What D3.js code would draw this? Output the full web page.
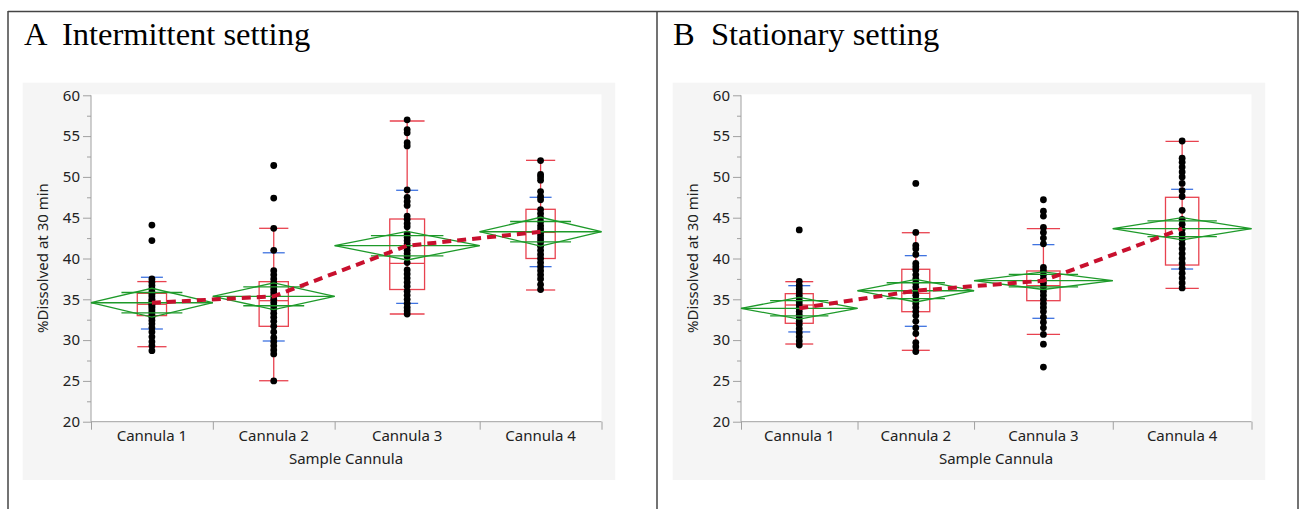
<!DOCTYPE html>
<html>
<head>
<meta charset="utf-8">
<script src="https://cdn.jsdelivr.net/npm/d3@7"></script>
<style>
  body { margin: 0; background: #fff; }
  svg text { white-space: pre; }
</style>
</head>
<body>
<div id="chart"></div>
<script>
// groups and sample sizes (JMP draws x widths proportional to n)
var cannulas = ["Cannula 1", "Cannula 2", "Cannula 3", "Cannula 4"];
var countsA = [42, 42, 50, 42];
var countsB = [42, 42, 50, 50];

// panel A - intermittent setting
var pointsA = [
  [28.7, 29.3, 29.8, 30.4, 31.0, 31.5, 32.0, 32.4, 32.8, 33.1, 33.4, 33.7, 34.0, 34.2, 34.4, 34.6, 34.8, 35.0, 35.3, 35.6, 35.9, 36.3, 36.7, 37.1, 37.5, 42.2, 44.1],
  [25.0, 28.3, 28.8, 29.3, 29.8, 30.3, 31.0, 31.7, 32.3, 32.8, 33.3, 33.8, 34.2, 34.6, 35.0, 35.4, 35.8, 36.2, 36.6, 37.0, 37.5, 38.0, 38.5, 41.0, 43.7, 47.4, 51.4],
  [33.2, 33.6, 34.0, 34.5, 35.0, 35.5, 36.0, 36.6, 37.1, 37.6, 38.1, 38.6, 39.5, 40.2, 40.6, 41.0, 41.4, 41.8, 42.2, 42.6, 43.0, 43.9, 44.3, 44.8, 45.2, 46.5, 47.0, 47.5, 48.4, 53.8, 54.2, 55.4, 55.8, 57.0],
  [36.2, 36.8, 37.5, 38.0, 38.5, 39.0, 39.5, 40.0, 40.5, 41.0, 41.5, 42.0, 42.4, 42.8, 43.2, 43.6, 44.0, 44.5, 45.0, 45.5, 46.0, 47.2, 47.6, 48.2, 49.6, 50.0, 50.3, 52.0]
];
var meansA = [34.58, 35.37, 41.57, 43.28];
var ciHalfA = [1.77, 1.64, 1.75, 1.77];
var q1A = [33.0, 31.69, 36.2, 40.0];
var medA = [34.39, 34.83, 39.4, 43.2];
var q3A = [35.73, 37.16, 44.84, 46.03];
var whiskLoA = [29.19, 25.02, 33.2, 36.14];
var whiskHiA = [37.17, 43.7, 56.85, 52.03];
var blueLoA = [31.36, 29.89, 34.5, 39.0];
var blueHiA = [37.7, 40.7, 48.36, 47.5];

// panel B - stationary setting
var pointsB = [
  [29.4, 29.9, 30.4, 30.9, 31.4, 31.9, 32.3, 32.7, 33.1, 33.5, 33.9, 34.3, 34.7, 35.1, 35.5, 35.9, 36.3, 36.7, 37.2, 43.5],
  [28.6, 29.2, 29.7, 30.8, 31.5, 32.3, 33.0, 33.5, 34.0, 34.5, 35.0, 35.5, 36.0, 36.5, 37.0, 37.5, 38.0, 38.6, 39.0, 39.4, 40.5, 41.2, 41.6, 43.2, 49.2],
  [26.7, 29.5, 30.7, 31.5, 32.2, 32.8, 33.5, 34.0, 34.5, 35.0, 35.5, 36.0, 36.5, 37.0, 37.5, 38.0, 38.5, 38.9, 41.8, 42.5, 43.2, 43.8, 45.2, 45.8, 47.2],
  [36.4, 37.0, 37.6, 38.2, 38.8, 39.4, 40.0, 40.6, 41.2, 41.8, 42.4, 43.0, 43.6, 44.2, 44.8, 45.9, 47.6, 48.3, 49.2, 50.0, 50.6, 51.2, 51.8, 52.3, 54.4]
];
var meansB = [33.9, 36.05, 37.28, 43.65];
var ciHalfB = [1.33, 1.38, 1.08, 1.37];
var q1B = [32.06, 33.48, 34.83, 39.2];
var medB = [34.3, 35.73, 36.67, 42.67];
var q3B = [35.69, 38.68, 38.47, 47.5];
var whiskLoB = [29.52, 28.75, 30.71, 36.35];
var whiskHiB = [37.16, 43.16, 43.66, 54.36];
var blueLoB = [31.0, 31.69, 32.67, 38.71];
var blueHiB = [36.67, 40.35, 41.7, 48.48];

var yTicks = [20, 25, 30, 35, 40, 45, 50, 55, 60];

var W = 1306, H = 509;
var svg = d3.select("#chart").append("svg")
  .attr("width", W).attr("height", H);

var cRed = "#e8424f", cBlue = "#3f73e0", cGreen = "#1e9a2a", cDash = "#c8102e";
var font = "'Noto Sans', 'Open Sans', sans-serif";

// outer frame of the figure
svg.append("line").attr("x1", 8).attr("x2", 1298).attr("y1", 11.5).attr("y2", 11.5)
  .attr("stroke", "#444").attr("stroke-width", 1.5);
[8, 657, 1298].forEach(function(x) {
  svg.append("line").attr("x1", x).attr("x2", x).attr("y1", 11).attr("y2", H)
    .attr("stroke", "#444").attr("stroke-width", 1.5);
});

function drawPanel(o) {
  var g = svg.append("g");

  // title
  g.append("text").attr("x", o.titleX).attr("y", 44.5)
    .attr("font-family", "'Liberation Serif', 'Times New Roman', serif")
    .attr("font-size", "32.5px").attr("fill", "#000")
    .text(o.title);

  // grey frame + white plot area
  g.append("rect").attr("x", o.frameX).attr("y", 82.7)
    .attr("width", 592.5).attr("height", 397.3).attr("fill", "#f5f5f5");
  g.append("rect").attr("x", o.plotX).attr("y", 94.3)
    .attr("width", 510.5).attr("height", 327.4).attr("fill", "#fff");

  var y = d3.scaleLinear().domain([20, 60]).range([421.7, 95.3]);

  // cumulative n -> x (proportional widths)
  var cum = [0];
  o.counts.forEach(function(c, i) { cum.push(cum[i] + c); });
  var x = d3.scaleLinear().domain([0, cum[cum.length - 1]]).range([o.plotX, o.plotX + 510.5]);
  var left = function(i) { return x(cum[i]); };
  var right = function(i) { return x(cum[i + 1]); };
  var mid = function(i) { return (left(i) + right(i)) / 2; };
  var bw = function(i) { return right(i) - left(i); };

  // y axis
  var yAxis = d3.axisLeft(y).tickValues(yTicks).tickSize(8).tickPadding(3);
  var ya = g.append("g").attr("transform", "translate(" + o.plotX + ",0)").call(yAxis);
  ya.selectAll(".tick text").attr("font-family", font).attr("font-size", "15px").attr("fill", "#222");
  ya.selectAll("line, path").attr("stroke", "#a0a0a0");
  ya.select(".domain").attr("d", "M0," + y(20) + "V" + y(60));
  var yMinor = d3.axisLeft(y).tickValues(d3.range(22.5, 60, 5)).tickSize(4).tickFormat("");
  g.append("g").attr("transform", "translate(" + o.plotX + ",0)").call(yMinor)
    .call(function(s) { s.select(".domain").remove(); s.selectAll("line").attr("stroke", "#a0a0a0"); });

  // x axis: band boundaries as ticks, names centred in bands
  g.append("line").attr("x1", o.plotX).attr("x2", o.plotX + 510.5)
    .attr("y1", y(20)).attr("y2", y(20)).attr("stroke", "#a0a0a0");
  var xAxis = d3.axisBottom(x).tickValues(cum).tickSize(8).tickFormat("");
  g.append("g").attr("transform", "translate(0," + y(20) + ")").call(xAxis)
    .call(function(s) { s.select(".domain").remove(); s.selectAll("line").attr("stroke", "#a0a0a0"); });
  g.selectAll(".xlab").data(cannulas).enter().append("text")
    .attr("x", function(d, i) { return mid(i); }).attr("y", 441)
    .attr("text-anchor", "middle").attr("font-family", font).attr("font-size", "15px").attr("fill", "#222")
    .text(function(d) { return d; });

  g.append("text").attr("x", o.plotX + 255).attr("y", 464)
    .attr("text-anchor", "middle").attr("font-family", font).attr("font-size", "15px").attr("fill", "#222")
    .text("Sample Cannula");
  g.append("text")
    .attr("transform", "translate(" + (o.plotX - 43) + "," + ((y(20) + 94.3) / 2) + ") rotate(-90)")
    .attr("text-anchor", "middle").attr("font-family", font).attr("font-size", "15px").attr("fill", "#222")
    .text("%Dissolved at 30 min");

  var idx = [0, 1, 2, 3];

  // quantile boxes and whiskers
  idx.forEach(function(i) {
    var cx = mid(i), half = bw(i) * 0.12;
    g.append("line").attr("x1", cx).attr("x2", cx).attr("y1", y(o.whiskLo[i])).attr("y2", y(o.whiskHi[i]))
      .attr("stroke", cRed).attr("stroke-width", 1.3);
    g.append("rect").attr("x", cx - half).attr("y", y(o.q3[i]))
      .attr("width", half * 2).attr("height", y(o.q1[i]) - y(o.q3[i]))
      .attr("fill", "none").attr("stroke", cRed).attr("stroke-width", 1.3);
    g.append("line").attr("x1", cx - half).attr("x2", cx + half).attr("y1", y(o.med[i])).attr("y2", y(o.med[i]))
      .attr("stroke", cRed).attr("stroke-width", 1.3);
    [o.whiskLo[i], o.whiskHi[i]].forEach(function(v) {
      g.append("line").attr("x1", cx - half).attr("x2", cx + half).attr("y1", y(v)).attr("y2", y(v))
        .attr("stroke", cRed).attr("stroke-width", 1.3);
    });
    [o.blueLo[i], o.blueHi[i]].forEach(function(v) {
      g.append("line").attr("x1", cx - 11).attr("x2", cx + 11).attr("y1", y(v)).attr("y2", y(v))
        .attr("stroke", cBlue).attr("stroke-width", 1.3);
    });
  });

  // points
  idx.forEach(function(i) {
    g.selectAll(null).data(o.points[i]).enter().append("circle")
      .attr("cx", mid(i)).attr("cy", function(d) { return y(d); })
      .attr("r", 3.4).attr("fill", "#000");
  });

  // means diamonds with overlap marks
  idx.forEach(function(i) {
    var m = o.means[i], h = o.ci[i], l = left(i), r = right(i), cx = mid(i);
    var pts = [[l, y(m)], [cx, y(m + h)], [r, y(m)], [cx, y(m - h)]];
    g.append("path").attr("d", d3.line()(pts) + "Z")
      .attr("fill", "none").attr("stroke", cGreen).attr("stroke-width", 1.3);
    g.append("line").attr("x1", l).attr("x2", r).attr("y1", y(m)).attr("y2", y(m))
      .attr("stroke", cGreen).attr("stroke-width", 1.3);
    var ov = h * Math.SQRT1_2, q = bw(i) / 4;
    [m + ov, m - ov].forEach(function(v) {
      g.append("line").attr("x1", cx - q).attr("x2", cx + q).attr("y1", y(v)).attr("y2", y(v))
        .attr("stroke", cGreen).attr("stroke-width", 1.3);
    });
  });

  // connect means
  g.append("path")
    .attr("d", d3.line().x(function(d, i) { return mid(i); }).y(function(d) { return y(d); })(o.means))
    .attr("fill", "none").attr("stroke", cDash).attr("stroke-width", 4)
    .attr("stroke-dasharray", "9,6");
}

drawPanel({
  title: "A  Intermittent setting", titleX: 24, frameX: 22.7, plotX: 91,
  counts: countsA, points: pointsA, means: meansA, ci: ciHalfA,
  q1: q1A, med: medA, q3: q3A, whiskLo: whiskLoA, whiskHi: whiskHiA, blueLo: blueLoA, blueHi: blueHiA
});
drawPanel({
  title: "B  Stationary setting", titleX: 673, frameX: 672.7, plotX: 741,
  counts: countsB, points: pointsB, means: meansB, ci: ciHalfB,
  q1: q1B, med: medB, q3: q3B, whiskLo: whiskLoB, whiskHi: whiskHiB, blueLo: blueLoB, blueHi: blueHiB
});
</script>
</body>
</html>
